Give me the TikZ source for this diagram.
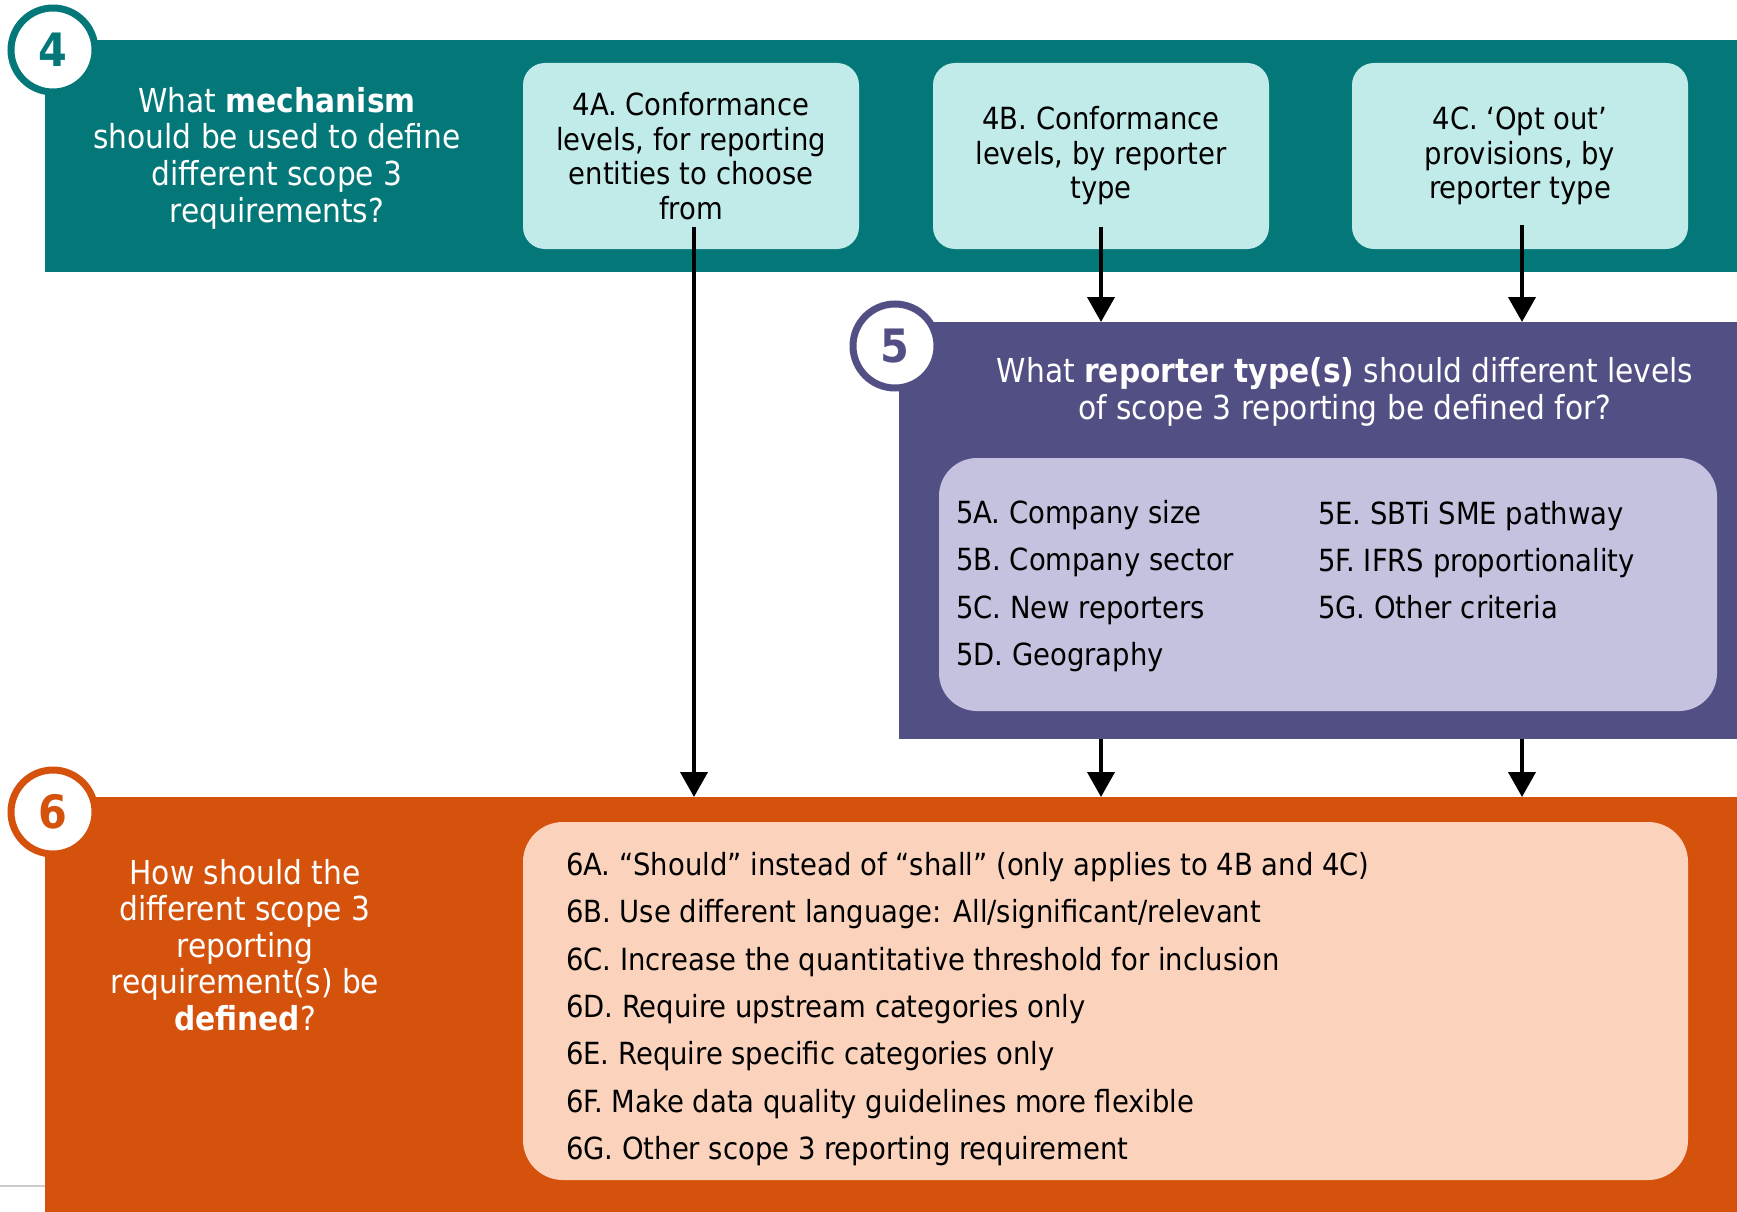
\documentclass[tikz,border=0pt]{standalone}
\usepackage{fontspec}
\setmainfont{DejaVu Sans Condensed}
\usetikzlibrary{arrows.meta,positioning}

\definecolor{tealband}{HTML}{047779}
\definecolor{tealbox}{HTML}{C1EBE9}
\definecolor{purpband}{HTML}{524F85}
\definecolor{purpbox}{HTML}{C4C2DE}
\definecolor{orgband}{HTML}{D5520C}
\definecolor{orgbox}{HTML}{FBD3BD}

\tikzset{
  band/.style={inner sep=0pt, anchor=north west},
  optbox/.style={fill=tealbox, rounded corners=22pt, minimum width=336pt,
    minimum height=186pt, inner sep=0pt, align=center,
    font=\fontsize{30.5}{34.5}\selectfont},
  numring/.style={circle, draw=#1, fill=white, line width=7pt,
    minimum size=84pt, inner sep=0pt, text=#1,
    font=\fontsize{46}{46}\selectfont\bfseries},
  qtext/.style={text=white, align=center, inner sep=0pt,
    font=\fontsize{33}{36.6}\selectfont},
  listtext/.style={align=left, inner sep=0pt, anchor=west,
    font=\fontsize{30.5}{47.3}\selectfont},
  flow/.style={-{Triangle[length=25pt,width=27pt]}, line width=4pt},
}

\begin{document}
\begin{tikzpicture}[x=1pt,y=-1pt]
    \useasboundingbox (0,0) rectangle (1737,1212);

    % Domanda 4
    \node[band, fill=tealband, minimum width=1700pt, minimum height=232pt] (q4) at (45,40) {};
    \node[numring=tealband] (n4) at (53,50) {4};
    \node[qtext] (q4txt) at (277,158) {What \textbf{mechanism}\\should be used to define\\different scope 3\\requirements?};

    % Opzioni 4A, 4B, 4C
    \node[optbox] (a4) at (691,156) {4A. Conformance\\levels, for reporting\\entities to choose\\from};
    \node[optbox] (b4) at (1101,156) {4B. Conformance\\levels, by reporter\\type};
    \node[optbox] (c4) at (1520,156) {4C. ‘Opt out’\\provisions, by\\reporter type};

    % Domanda 5
    \node[band, fill=purpband, minimum width=850pt, minimum height=417pt] (q5) at (899,322) {};
    \node[numring=purpband] (n5) at (895,346) {5};
    \node[qtext] (q5txt) at (1345,392) {What \textbf{reporter type(s)} should different levels\\of scope 3 reporting be defined for?};
    \node[fill=purpbox, rounded corners=38pt, minimum width=778pt, minimum height=253pt,
      inner sep=0pt] (l5) at (1328,584.5) {};
    \node[listtext] (l5left) at (956,586) {5A. Company size\\5B. Company sector\\5C. New reporters\\5D. Geography};
    \node[listtext] (l5right) at (1318,560) {5E. SBTi SME pathway\\5F. IFRS proportionality\\5G. Other criteria};

    % Domanda 6
    \node[band, fill=orgband, minimum width=1700pt, minimum height=430pt] (q6) at (45,797) {};
    \draw[black!20, line width=1.5pt] (0,1186) -- (q6.west |- 0,1186);
    \node[numring=orgband] (n6) at (53,812) {6};
    \node[qtext] (q6txt) at (245,945) {How should the\\different scope 3\\reporting\\requirement(s) be\\\textbf{defined}?};
    \node[fill=orgbox, rounded corners=40pt, minimum width=1165pt, minimum height=358pt,
      inner sep=0pt] (l6) at (1105.5,1001) {};
    \node[listtext] (l6list) at (566,1009) {6A. “Should” instead of “shall” (only applies to 4B and 4C)\\
      6B. Use different language: All/significant/relevant\\
      6C. Increase the quantitative threshold for inclusion\\
      6D. Require upstream categories only\\
      6E. Require specific categories only\\
      6F. Make data quality guidelines more flexible\\
      6G. Other scope 3 reporting requirement};

    % Frecce
    \draw[flow] ([xshift=3pt,yshift=22pt]a4.south) -- ([xshift=3pt]a4.south |- q6.north);
    \draw[flow] ([yshift=22pt]b4.south) -- (b4.south |- q5.north);
    \draw[flow] ([xshift=2pt,yshift=24pt]c4.south) -- ([xshift=2pt]c4.south |- q5.north);
    \draw[flow] (b4.south |- q5.south) -- (b4.south |- q6.north);
    \draw[flow] ([xshift=2pt]c4.south |- q5.south) -- ([xshift=2pt]c4.south |- q6.north);
\end{tikzpicture}
\end{document}
